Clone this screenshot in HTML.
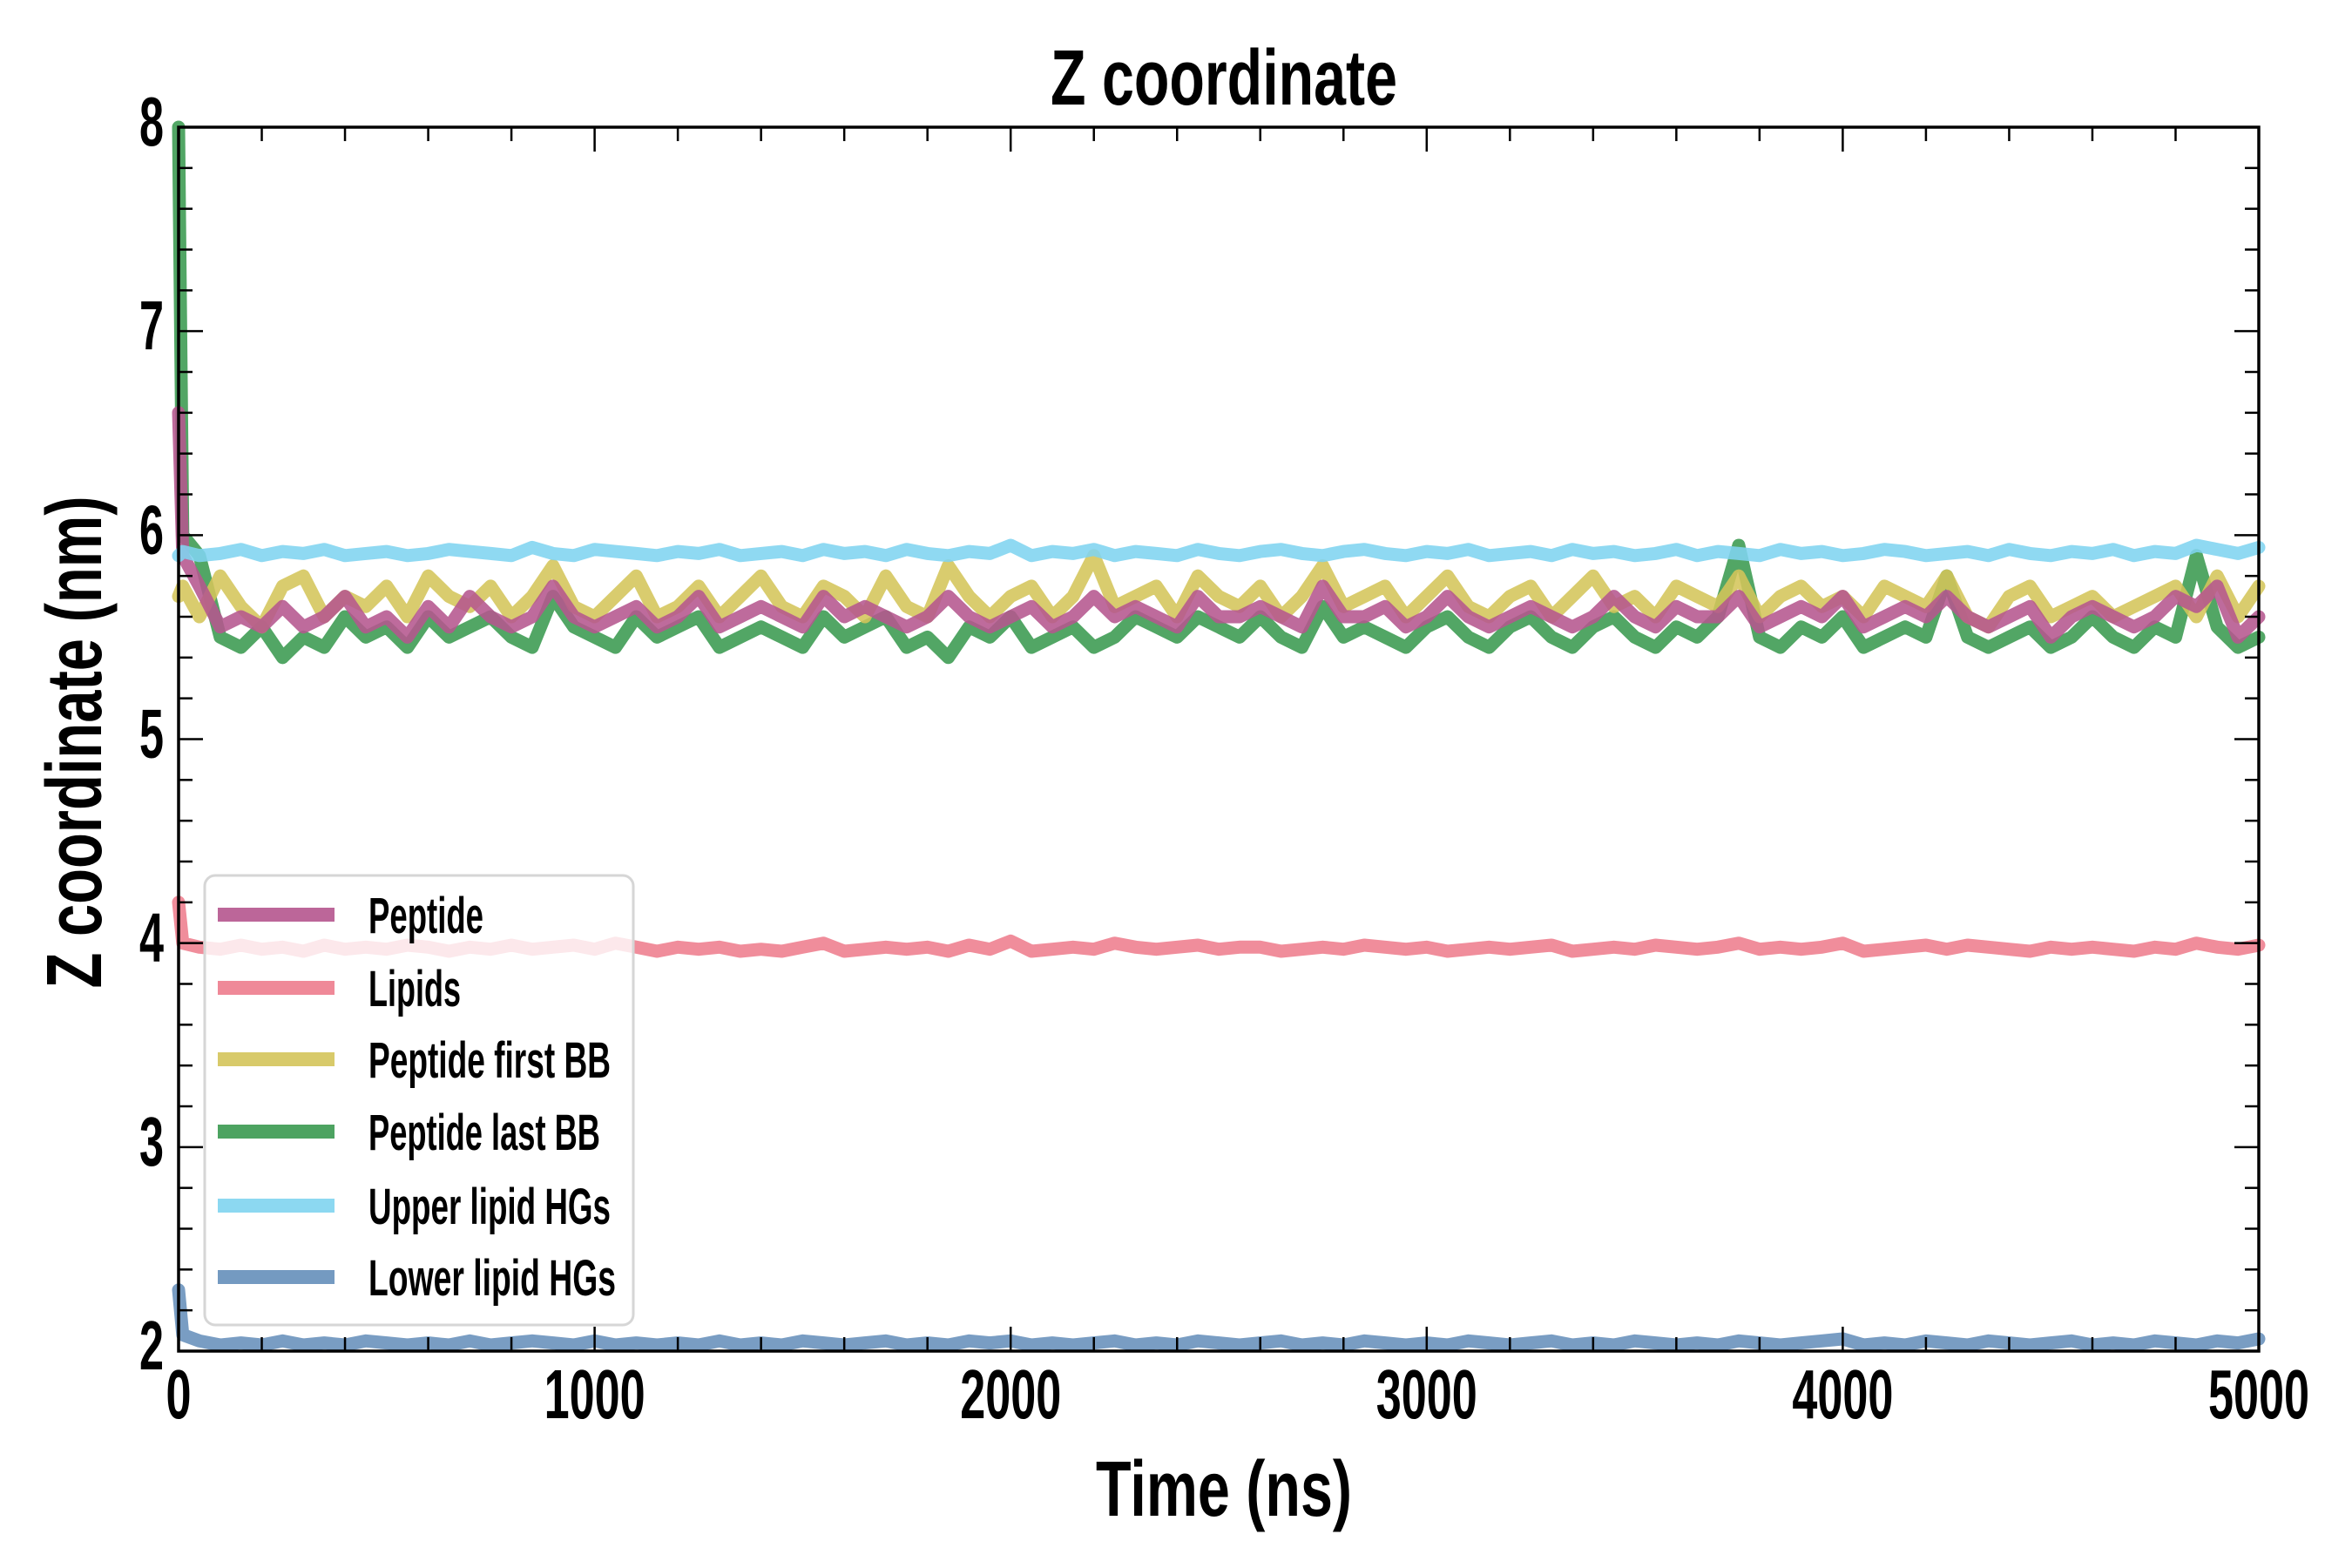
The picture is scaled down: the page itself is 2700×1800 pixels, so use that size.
<!DOCTYPE html>
<html><head><meta charset="utf-8">
<style>
html,body{margin:0;padding:0;background:#fff;}
svg{display:block;}
text{font-family:"Liberation Sans Narrow","Liberation Sans",sans-serif;font-weight:bold;fill:#000;}
</style></head>
<body>
<svg id="chart" width="2700" height="1800" viewBox="0 0 2700 1800" xmlns="http://www.w3.org/2000/svg">
<rect width="2700" height="1800" fill="#fff"/>
<g id="series"></g>
<g id="axes"></g>
<g id="legend"></g>
</svg>
<script>
const xTicks = [0,1000,2000,3000,4000,5000];
const yTicks = [2,3,4,5,6,7,8];
const seriesNames = ["Peptide","Lipids","Peptide first BB","Peptide last BB","Upper lipid HGs","Lower lipid HGs"];
const times = [0,10,50,100,150,200,250,300,350,400,450,500,550,600,650,700,750,800,850,900,950,1000,1050,1100,1150,1200,1250,1300,1350,1400,1450,1500,1550,1600,1650,1700,1750,1800,1850,1900,1950,2000,2050,2100,2150,2200,2250,2300,2350,2400,2450,2500,2550,2600,2650,2700,2750,2800,2850,2900,2950,3000,3050,3100,3150,3200,3250,3300,3350,3400,3450,3500,3550,3600,3650,3700,3750,3800,3850,3900,3950,4000,4050,4100,4150,4200,4250,4300,4350,4400,4450,4500,4550,4600,4650,4700,4750,4800,4850,4900,4950,5000];
const peptide = [6.6,5.9,5.75,5.55,5.6,5.55,5.65,5.55,5.6,5.7,5.55,5.6,5.5,5.65,5.55,5.7,5.6,5.55,5.6,5.75,5.6,5.55,5.6,5.65,5.55,5.6,5.7,5.55,5.6,5.65,5.6,5.55,5.7,5.6,5.65,5.6,5.55,5.6,5.7,5.6,5.55,5.6,5.65,5.55,5.6,5.7,5.6,5.65,5.6,5.55,5.7,5.6,5.6,5.65,5.6,5.55,5.75,5.6,5.6,5.65,5.55,5.6,5.7,5.6,5.55,5.6,5.65,5.6,5.55,5.6,5.7,5.6,5.55,5.65,5.6,5.6,5.7,5.55,5.6,5.65,5.6,5.7,5.55,5.6,5.65,5.6,5.7,5.6,5.55,5.6,5.65,5.5,5.6,5.65,5.6,5.55,5.6,5.7,5.65,5.75,5.5,5.6];
const lipids = [4.2,4.0,3.98,3.97,3.99,3.97,3.98,3.96,3.99,3.97,3.98,3.97,3.99,3.98,3.96,3.98,3.97,3.99,3.97,3.98,3.99,3.97,4.0,3.98,3.96,3.98,3.97,3.98,3.96,3.97,3.96,3.98,4.0,3.96,3.97,3.98,3.97,3.98,3.96,3.99,3.97,4.01,3.96,3.97,3.98,3.97,4.0,3.98,3.97,3.98,3.99,3.97,3.98,3.98,3.96,3.97,3.98,3.97,3.99,3.98,3.97,3.98,3.96,3.97,3.98,3.97,3.98,3.99,3.96,3.97,3.98,3.97,3.99,3.98,3.97,3.98,4.0,3.97,3.98,3.97,3.98,4.0,3.96,3.97,3.98,3.99,3.97,3.99,3.98,3.97,3.96,3.98,3.97,3.98,3.97,3.96,3.98,3.97,4.0,3.98,3.97,3.99];
const firstBB = [5.7,5.75,5.6,5.8,5.65,5.55,5.75,5.8,5.6,5.7,5.65,5.75,5.6,5.8,5.7,5.65,5.75,5.6,5.7,5.85,5.65,5.6,5.7,5.8,5.6,5.65,5.75,5.6,5.7,5.8,5.65,5.6,5.75,5.7,5.6,5.8,5.65,5.6,5.85,5.7,5.6,5.7,5.75,5.6,5.7,5.9,5.65,5.7,5.75,5.6,5.8,5.7,5.65,5.75,5.6,5.7,5.85,5.65,5.7,5.75,5.6,5.7,5.8,5.65,5.6,5.7,5.75,5.6,5.7,5.8,5.65,5.7,5.6,5.75,5.7,5.65,5.8,5.6,5.7,5.75,5.65,5.7,5.6,5.75,5.7,5.65,5.8,5.6,5.55,5.7,5.75,5.6,5.65,5.7,5.6,5.65,5.7,5.75,5.6,5.8,5.6,5.75];
const lastBB = [8.0,6.0,5.9,5.5,5.45,5.55,5.4,5.5,5.45,5.6,5.5,5.55,5.45,5.6,5.5,5.55,5.6,5.5,5.45,5.7,5.55,5.5,5.45,5.6,5.5,5.55,5.6,5.45,5.5,5.55,5.5,5.45,5.6,5.5,5.55,5.6,5.45,5.5,5.4,5.55,5.5,5.6,5.45,5.5,5.55,5.45,5.5,5.6,5.55,5.5,5.6,5.55,5.5,5.6,5.5,5.45,5.65,5.5,5.55,5.5,5.45,5.55,5.6,5.5,5.45,5.55,5.6,5.5,5.45,5.55,5.6,5.5,5.45,5.55,5.5,5.6,5.95,5.5,5.45,5.55,5.5,5.6,5.45,5.5,5.55,5.5,5.8,5.5,5.45,5.5,5.55,5.45,5.5,5.6,5.5,5.45,5.55,5.5,5.9,5.55,5.45,5.5];
const upperHG = [5.9,5.92,5.9,5.91,5.93,5.9,5.92,5.91,5.93,5.9,5.91,5.92,5.9,5.91,5.93,5.92,5.91,5.9,5.94,5.91,5.9,5.93,5.92,5.91,5.9,5.92,5.91,5.93,5.9,5.91,5.92,5.9,5.93,5.91,5.92,5.9,5.93,5.91,5.9,5.92,5.91,5.95,5.9,5.92,5.91,5.93,5.9,5.92,5.91,5.9,5.93,5.91,5.9,5.92,5.93,5.91,5.9,5.92,5.93,5.91,5.9,5.92,5.91,5.93,5.9,5.91,5.92,5.9,5.93,5.91,5.92,5.9,5.91,5.93,5.9,5.92,5.91,5.9,5.93,5.91,5.92,5.9,5.91,5.93,5.92,5.9,5.91,5.92,5.9,5.93,5.91,5.9,5.92,5.91,5.93,5.9,5.92,5.91,5.95,5.93,5.91,5.94];
const lowerHG = [2.3,2.08,2.05,2.03,2.04,2.03,2.05,2.03,2.04,2.03,2.05,2.04,2.03,2.04,2.03,2.05,2.03,2.04,2.05,2.04,2.03,2.05,2.03,2.04,2.03,2.04,2.03,2.05,2.03,2.04,2.03,2.05,2.04,2.03,2.04,2.05,2.03,2.04,2.03,2.05,2.04,2.05,2.03,2.04,2.03,2.04,2.05,2.03,2.04,2.03,2.05,2.04,2.03,2.04,2.05,2.03,2.04,2.03,2.05,2.04,2.03,2.04,2.03,2.05,2.04,2.03,2.04,2.05,2.03,2.04,2.03,2.05,2.04,2.03,2.04,2.03,2.05,2.04,2.03,2.04,2.05,2.06,2.03,2.04,2.03,2.05,2.04,2.03,2.05,2.04,2.03,2.04,2.05,2.03,2.04,2.03,2.05,2.04,2.03,2.05,2.04,2.06];

const NS="http://www.w3.org/2000/svg";
const L=205,R=2593,T=146,B=1551;
const X0=0,X1=5000,Y0=2,Y1=8;
function xs(v){return L+(v-X0)/(X1-X0)*(R-L);}
function ys(v){return B-(v-Y0)/(Y1-Y0)*(B-T);}
function mk(tag,attrs,parent){const e=document.createElementNS(NS,tag);for(const k in attrs)e.setAttribute(k,attrs[k]);parent.appendChild(e);return e;}

const colors=["#b5568e","#ee7d8d","#d4c55a","#3a9a50","#80d4f0","#6690bb"];
const dataSets=[peptide,lipids,firstBB,lastBB,upperHG,lowerHG];
const seriesKeys=["peptide","lipids","peptide-first-bb","peptide-last-bb","upper-lipid-hgs","lower-lipid-hgs"];
const drawOrder=[3,2,0,4,1,5];
const sg=document.getElementById('series');
drawOrder.forEach(i=>{
  const d=dataSets[i].map((v,j)=>(j?'L':'M')+xs(times[j]).toFixed(1)+','+ys(v).toFixed(1)).join(' ');
  const p=mk('path',{d:d,fill:'none',stroke:colors[i],'stroke-width':15,'stroke-linejoin':'round','stroke-linecap':'round',opacity:0.88},sg);
  
  
});

const ag=document.getElementById('axes');
for(let v=0;v<=5000;v+=200){
  const x=xs(v), maj=(v%1000===0), len=maj?28:16;
  const t1=mk('line',{x1:x,y1:B,x2:x,y2:B-len,stroke:'#000','stroke-width':2.5},ag);
  
  
  const t2=mk('line',{x1:x,y1:T,x2:x,y2:T+len,stroke:'#000','stroke-width':2.5},ag);
  
  
}
for(let k=0;k<=30;k++){
  const v=2+k*0.2, y=ys(v), maj=(k%5===0), len=maj?28:16;
  const t1=mk('line',{x1:L,y1:y,x2:L+len,y2:y,stroke:'#000','stroke-width':2.5},ag);
  
  
  const t2=mk('line',{x1:R,y1:y,x2:R-len,y2:y,stroke:'#000','stroke-width':2.5},ag);
  
  
}
const frame=mk('rect',{x:L,y:T,width:R-L,height:B-T,fill:'none',stroke:'#000','stroke-width':3.5},ag);


xTicks.forEach(v=>{
  const s=String(v);
  const t=mk('text',{x:xs(v),y:1628,'text-anchor':'middle','font-size':80,textLength:s.length*29,lengthAdjust:'spacingAndGlyphs'},ag);
  t.textContent=s;
  
  
});
yTicks.forEach(v=>{
  const t=mk('text',{x:188,y:ys(v)+21,'text-anchor':'end','font-size':80,textLength:28,lengthAdjust:'spacingAndGlyphs'},ag);
  t.textContent=String(v);
  
  
});
const title=mk('text',{x:1405,y:120,'text-anchor':'middle','font-size':90,textLength:398,lengthAdjust:'spacingAndGlyphs'},ag);
title.textContent='Z coordinate';


const xl=mk('text',{x:1405,y:1740,'text-anchor':'middle','font-size':90,textLength:294,lengthAdjust:'spacingAndGlyphs'},ag);
xl.textContent='Time (ns)';


const yl=mk('text',{x:0,y:0,'text-anchor':'middle','font-size':90,textLength:565,lengthAdjust:'spacingAndGlyphs',transform:'translate(116,852) rotate(-90)'},ag);
yl.textContent='Z coordinate (nm)';



const lg=document.getElementById('legend');
const box=mk('rect',{x:235,y:1005,width:492,height:516,rx:12,fill:'#fff','fill-opacity':0.8,stroke:'#d6d6d6','stroke-width':3},lg);


const rowY=[1050,1134,1216,1299,1384,1466];
const textW=[132,106,278,266,278,284];
seriesNames.forEach((n,i)=>{
  const g=mk('g',{},lg);
  
  
  const ln=mk('line',{x1:250,y1:rowY[i],x2:384,y2:rowY[i],stroke:colors[i],'stroke-width':16,opacity:0.9},g);
  
  
  const t=mk('text',{x:423,y:rowY[i]+21,'font-size':58,textLength:textW[i],lengthAdjust:'spacingAndGlyphs'},g);
  t.textContent=n;
  
  
});
</script>
</body></html>
